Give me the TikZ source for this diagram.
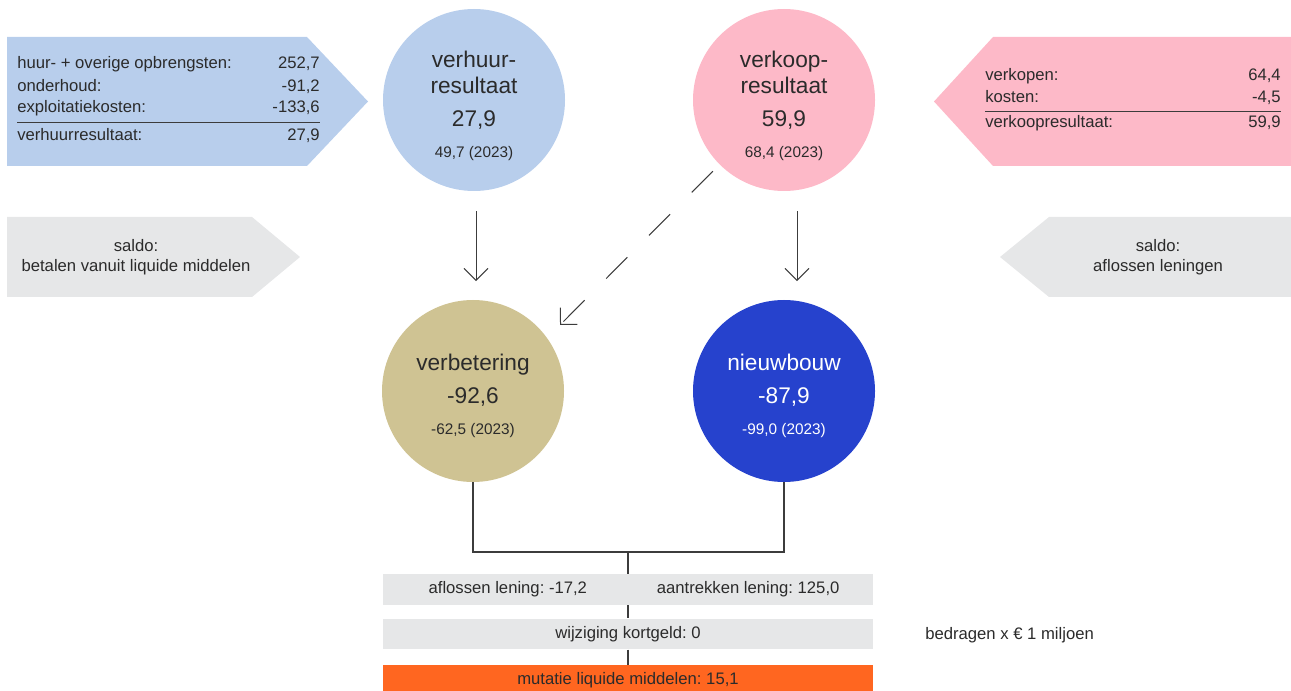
\documentclass[tikz,border=0pt]{standalone}
\usepackage{fontspec}
\setmainfont{Liberation Sans}
\usepackage{tikz}
\usetikzlibrary{arrows.meta, positioning, calc}
\frenchspacing

\definecolor{huurblue}{HTML}{B8CEEC}
\definecolor{koopred}{HTML}{FDB9C8}
\definecolor{verbeterkhaki}{HTML}{CFC393}
\definecolor{nieuwblue}{HTML}{2642CD}
\definecolor{saldogray}{HTML}{E6E7E8}
\definecolor{mutatieorange}{HTML}{FF6620}
\definecolor{inkgray}{HTML}{2B2B2B}
\definecolor{linegray}{HTML}{3C3C3C}

\newcommand{\fsmall}{\fontsize{12.5pt}{15pt}\selectfont}
\newcommand{\fyear}{\fontsize{11.5pt}{14pt}\selectfont}
\newcommand{\fbig}{\fontsize{17pt}{19.5pt}\selectfont}

\begin{document}
\begin{tikzpicture}[x=0.75pt, y=-0.75pt, text=inkgray,
    bubble/.style={circle, minimum size=136.5pt, inner sep=0pt},
    bubbletext/.style={align=center, font=\fbig, inner sep=0pt},
    rowtext/.style={font=\fsmall, inner sep=0pt, text height=8.8pt, text depth=2.5pt},
    barbox/.style={fill=saldogray, minimum width=367.5pt, minimum height=23pt, inner sep=0pt},
    flow/.style={draw=linegray, line width=0.75pt, -{Straight Barb[length=9pt, width=18pt]}},
    joinline/.style={draw=linegray, line width=0.8pt}]
    \useasboundingbox (0,0) rectangle (1291,691);

    % side panels
    \fill[huurblue] (7,37) -- (307,37) -- (368,101.5) -- (307,166) -- (7,166) -- cycle;
    \fill[koopred] (1291,37) -- (993,37) -- (934,101.5) -- (993,166) -- (1291,166) -- cycle;
    \fill[saldogray] (7,217) -- (252,217) -- (300,257) -- (252,297) -- (7,297) -- cycle;
    \fill[saldogray] (1291,217) -- (1049,217) -- (1000,257) -- (1049,297) -- (1291,297) -- cycle;

    \foreach \y/\lbl/\val in {64/{huur- + overige opbrengsten:}/{252,7}, 87/{onderhoud:}/{-91,2}, 108/{exploitatiekosten:}/{-133,6}, 136/{verhuurresultaat:}/{27,9}} {
        \node[rowtext, anchor=west] (huurlbl\y) at (17,\y) {\lbl};
        \node[rowtext, anchor=east] (huurval\y) at (320,\y) {\val};
    }
    \draw[linegray, line width=0.6pt] (17,122) -- (320,122);

    \foreach \y/\lbl/\val in {76/{verkopen:}/{64,4}, 98/{kosten:}/{-4,5}, 123/{verkoopresultaat:}/{59,9}} {
        \node[rowtext, anchor=west] (kooplbl\y) at (985,\y) {\lbl};
        \node[rowtext, anchor=east] (koopval\y) at (1281,\y) {\val};
    }
    \draw[linegray, line width=0.6pt] (985,111) -- (1281,111);

    \node[font=\fsmall, align=center] (saldolinks) at (136,257) {saldo:\\betalen vanuit liquide middelen};
    \node[font=\fsmall, align=center] (saldorechts) at (1158,257) {saldo:\\aflossen leningen};

    % circles
    \node[bubble, fill=huurblue] (verhuur) at (474,100) {};
    \node[bubble, fill=koopred] (verkoop) at (784,100) {};
    \node[bubble, fill=verbeterkhaki] (verbetering) at (473,391) {};
    \node[bubble, fill=nieuwblue] (nieuwbouw) at (784,391) {};

    \node[bubbletext] (verhuurtxt) at ([yshift=-4.5pt]verhuur.center) {verhuur-\\resultaat\\[5.25pt]27,9\\[3.7pt]{\fyear 49,7 (2023)}};
    \node[bubbletext] (verkooptxt) at ([yshift=-4.5pt]verkoop.center) {verkoop-\\resultaat\\[5.25pt]59,9\\[3.7pt]{\fyear 68,4 (2023)}};
    \node[bubbletext] (verbetertxt) at ([yshift=-3.6pt]verbetering.center) {verbetering\\[5.25pt]-92,6\\[3.7pt]{\fyear -62,5 (2023)}};
    \node[bubbletext, text=white] (nieuwtxt) at ([yshift=-3.6pt]nieuwbouw.center) {nieuwbouw\\[5.25pt]-87,9\\[3.7pt]{\fyear -99,0 (2023)}};

    % flows
    \draw[flow, shorten <=15pt, shorten >=14pt] ([xshift=1.5pt]verhuur.south) -- ([xshift=1.5pt]verhuur.south |- verbetering.north);
    \draw[flow, shorten <=15pt, shorten >=14pt] ([xshift=9.75pt]verkoop.south) -- ([xshift=9.75pt]verkoop.south |- nieuwbouw.north);
    \coordinate (dashtip) at (560,325);
    \draw[flow, dash pattern=on 22.5pt off 23pt, shorten <=7pt] (verkoop.225) -- (dashtip);

    % totals
    \node[barbox] (leningen) at (628,589.5) {};
    \node[barbox] (kortgeld) at (628,634) {};
    \node[barbox, fill=mutatieorange] (mutatie) at (628,680.5) {};
    \node[rowtext] (aflossen) at ($(leningen.west)!0.255!(leningen.east)$) {aflossen lening: -17,2};
    \node[rowtext] (aantrekken) at ($(leningen.west)!0.745!(leningen.east)$) {aantrekken lening: 125,0};
    \node[rowtext] (kortgeldtxt) at (kortgeld) {wijziging kortgeld: 0};
    \node[rowtext] (mutatietxt) at (mutatie) {mutatie liquide middelen: 15,1};
    \node[rowtext, anchor=west] (eenheid) at (925,635) {bedragen x € 1 miljoen};

    \coordinate (merge) at (628,552);
    \draw[joinline] (verbetering.south) |- (merge) -| (nieuwbouw.south);
    \foreach \a/\b in {merge/leningen.north, leningen.south/kortgeld.north, kortgeld.south/mutatie.north}
        \draw[joinline] (\a) -- (\b);
\end{tikzpicture}
\end{document}
